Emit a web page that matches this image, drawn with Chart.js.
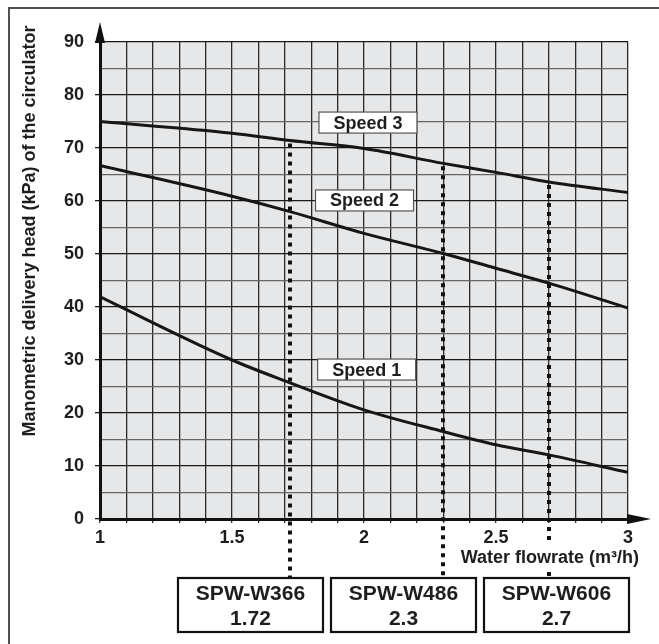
<!DOCTYPE html>
<html><head><meta charset="utf-8">
<script src="https://cdn.jsdelivr.net/npm/chart.js@4.4.1/dist/chart.umd.min.js"></script>
<style>html,body{margin:0;padding:0;background:#fff}canvas{display:block}</style>
</head><body>
<canvas id="c" width="659" height="644"></canvas>
<script>
// ---- data ----
const flowrates = [1, 1.5, 1.72, 2, 2.3, 2.5, 2.7, 3];
const speed1 = [41.9, 30.0, 25.7, 20.6, 16.5, 14.0, 12.1, 8.8];
const speed2 = [66.7, 60.9, 58.0, 53.9, 50.1, 47.3, 44.5, 39.8];
const speed3 = [75.0, 72.8, 71.4, 69.9, 67.1, 65.4, 63.6, 61.6];
const seriesNames = ['Speed 1', 'Speed 2', 'Speed 3'];
const xTickLabels = ['1', '1.5', '2', '2.5', '3'];
const yTickLabels = ['0', '10', '20', '30', '40', '50', '60', '70', '80', '90'];
const modelNames = ['SPW-W366', 'SPW-W486', 'SPW-W606'];
const modelFlows = [1.72, 2.3, 2.7];
const xTitle = 'Water flowrate (m³/h)';
const yTitle = 'Manometric delivery head (kPa) of the circulator';

// ---- layout (not data) ----
const FONT = "'Liberation Sans', Arial, Helvetica, sans-serif";
const speedLabelAnchors = [{x: 2.01, y: 28.2}, {x: 2.002, y: 60.1}, {x: 2.015, y: 74.8}];
const modelBoxCenters = [250.5, 403.5, 556.5];
const modelBoxTop = 578, modelBoxW = 145, modelBoxH = 54;

const toPts = arr => flowrates.map((f, i) => ({x: f, y: arr[i]}));
const allSeries = [speed1, speed2, speed3];

const near = (a, b) => Math.abs(a - b) < 1e-6;

const decor = {
  id: 'decor',
  beforeDraw(chart) {
    const {ctx, chartArea: a} = chart;
    ctx.save();
    ctx.fillStyle = '#e6e7e8';
    ctx.fillRect(a.left, a.top, a.right - a.left, a.bottom - a.top);
    ctx.restore();
  },
  afterDraw(chart) {
    const {ctx, chartArea: a, scales: {x, y}} = chart;
    ctx.save();
    // outer frame (left + top)
    ctx.strokeStyle = '#505050'; ctx.lineWidth = 2;
    ctx.beginPath(); ctx.moveTo(9, 644); ctx.lineTo(9, 8); ctx.lineTo(659, 8); ctx.stroke();
    // axis arrows
    ctx.fillStyle = '#111';
    ctx.beginPath(); ctx.moveTo(a.left, 22); ctx.lineTo(a.left - 5, a.top + 1); ctx.lineTo(a.left + 5, a.top + 1); ctx.closePath(); ctx.fill();
    ctx.beginPath(); ctx.moveTo(651, a.bottom); ctx.lineTo(a.right - 1, a.bottom - 5); ctx.lineTo(a.right - 1, a.bottom + 5); ctx.closePath(); ctx.fill();
    // dotted lines from speed-3 curve down to model boxes
    ctx.strokeStyle = '#111'; ctx.lineWidth = 4; ctx.setLineDash([4, 5]);
    modelFlows.forEach(f => {
      const idx = flowrates.findIndex(v => near(v, f));
      const px = Math.round(x.getPixelForValue(f));
      const top = y.getPixelForValue(speed3[idx]) + 3;
      ctx.beginPath(); ctx.moveTo(px, top); ctx.lineTo(px, modelBoxTop); ctx.stroke();
    });
    ctx.setLineDash([]);
    // titles
    ctx.font = 'bold 18px ' + FONT;
    ctx.textAlign = 'right'; ctx.textBaseline = 'middle';
    const tw = ctx.measureText(xTitle).width;
    ctx.fillStyle = '#fff';
    ctx.fillRect(639 - tw - 2, 545, tw + 4, 27);
    ctx.fillStyle = '#1e1e1e';
    ctx.fillText(xTitle, 639, 558);
    ctx.save();
    ctx.translate(30, 231); ctx.rotate(-Math.PI / 2);
    ctx.textAlign = 'center';
    ctx.fillText(yTitle, 0, 0);
    ctx.restore();
    // speed labels
    ctx.font = 'bold 18px ' + FONT;
    ctx.textAlign = 'center'; ctx.textBaseline = 'middle';
    seriesNames.forEach((name, i) => {
      const cx = x.getPixelForValue(speedLabelAnchors[i].x);
      const cy = y.getPixelForValue(speedLabelAnchors[i].y);
      ctx.fillStyle = '#fff'; ctx.fillRect(cx - 49, cy - 10.5, 98, 21);
      ctx.strokeStyle = '#555'; ctx.lineWidth = 1.2; ctx.strokeRect(cx - 49, cy - 10.5, 98, 21);
      ctx.fillStyle = '#1e1e1e'; ctx.fillText(name, cx, cy + 1);
    });
    // model boxes
    modelNames.forEach((name, i) => {
      const cx = modelBoxCenters[i];
      ctx.fillStyle = '#fff'; ctx.fillRect(cx - modelBoxW / 2, modelBoxTop, modelBoxW, modelBoxH);
      ctx.strokeStyle = '#111'; ctx.lineWidth = 2.2; ctx.strokeRect(cx - modelBoxW / 2, modelBoxTop, modelBoxW, modelBoxH);
      ctx.fillStyle = '#1e1e1e'; ctx.font = 'bold 21px ' + FONT;
      ctx.fillText(name, cx, modelBoxTop + 16);
      ctx.fillText(String(modelFlows[i]), cx, modelBoxTop + 41);
    });
    ctx.restore();
  }
};

new Chart(document.getElementById('c'), {
  type: 'line',
  data: {
    datasets: allSeries.map((s, i) => ({
      label: seriesNames[i],
      data: toPts(s),
      borderColor: '#161616',
      borderWidth: 3,
      pointRadius: 0,
      cubicInterpolationMode: 'monotone',
      fill: false
    }))
  },
  options: {
    responsive: false,
    animation: false,
    devicePixelRatio: 1,
    layout: {padding: {left: 0, right: 31, top: 42, bottom: 0}},
    plugins: {legend: {display: false}, tooltip: {enabled: false}},
    scales: {
      x: {
        type: 'linear', min: 1, max: 3,
        afterFit: s => { s.height = 125; },
        ticks: {
          stepSize: 0.1, autoSkip: false, maxRotation: 0, padding: 4,
          color: '#1e1e1e', font: {family: FONT, size: 18, weight: 'bold'},
          callback: v => { const l = xTickLabels.find(t => near(parseFloat(t), v)); return l === undefined ? '' : l; }
        },
        grid: {color: '#2a2a2a', lineWidth: 1.3, tickLength: 4, tickColor: '#333'},
        border: {color: '#111', width: 3}
      },
      y: {
        type: 'linear', min: 0, max: 90,
        afterFit: s => { s.width = 100; },
        ticks: {
          stepSize: 5, autoSkip: false, padding: 11,
          color: '#1e1e1e', font: {family: FONT, size: 18, weight: 'bold'},
          callback: v => { const l = yTickLabels.find(t => near(parseFloat(t), v)); return l === undefined ? '' : l; }
        },
        grid: {
          color: c => (c.tick && near(c.tick.value % 10, 0)) ? '#1a1a1a' : '#666',
          lineWidth: 1.3, tickLength: 5,
          tickColor: c => (c.tick && near(c.tick.value % 10, 0)) ? '#1a1a1a' : 'rgba(0,0,0,0)'
        },
        border: {color: '#111', width: 3}
      }
    }
  },
  plugins: [decor]
});
</script>
</body></html>
